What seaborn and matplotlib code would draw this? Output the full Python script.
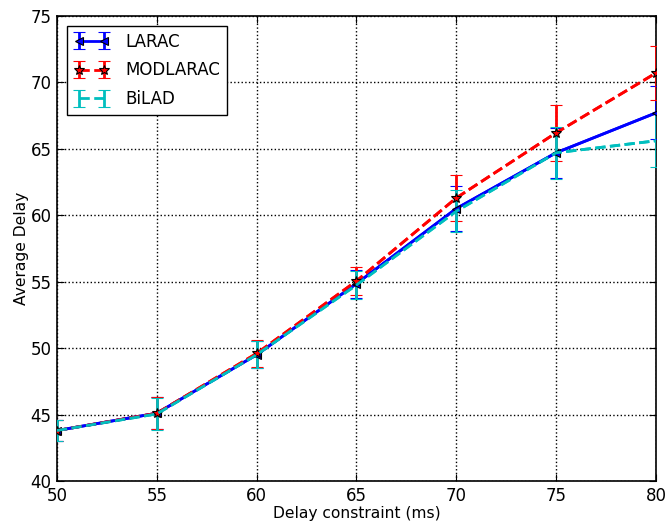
import numpy as np
import pandas as pd
import matplotlib
matplotlib.use("Agg")
import matplotlib.pyplot as plt
import seaborn as sns

delay_constraint = [50, 55, 60, 65, 70, 75, 80]
larac = [43.8, 45.1, 49.5, 54.85, 60.5, 64.7, 67.7]
larac_err = [0.8, 1.2, 1.0, 1.05, 1.7, 1.9, 2.0]
modlarac = [43.8, 45.1, 49.6, 55.05, 61.3, 66.2, 70.7]
modlarac_err = [0.8, 1.2, 1.0, 1.05, 1.7, 2.1, 2.0]
bilad = [43.8, 45.05, 49.5, 54.75, 60.3, 64.7, 65.6]
bilad_err = [0.8, 1.2, 1.0, 1.05, 1.6, 1.95, 2.0]
series_names = ["LARAC", "MODLARAC", "BiLAD"]

sns.set_style("ticks")
plt.rcParams['font.family'] = ['DejaVu Sans']
plt.rcParams['text.color'] = 'black'
plt.rcParams['axes.labelcolor'] = 'black'
plt.rcParams['xtick.color'] = 'black'
plt.rcParams['ytick.color'] = 'black'

fig, ax = plt.subplots(figsize=(6.7, 5.29), dpi=100)
fig.subplots_adjust(left=0.085, right=0.979, top=0.970, bottom=0.0907)

styles = [
    dict(color="#0000ff", ls="-", marker="<", mfc="#0000ff", mec="black", ms=6),
    dict(color="#ff0000", ls="--", marker="*", mfc="#ff0000", mec="black", ms=7),
    dict(color="#00bfbf", ls="--", marker="", mfc="#00bfbf", mec="#00bfbf", ms=5),
]
values = [(larac, larac_err), (modlarac, modlarac_err), (bilad, bilad_err)]

for name, (y, e), st in zip(series_names, values, styles):
    df = pd.DataFrame({"x": delay_constraint, "y": y})
    sns.lineplot(data=df, x="x", y="y", ax=ax, color=st["color"], linestyle=st["ls"],
                 lw=2, legend=False, zorder=3)
    ax.errorbar(delay_constraint, y, yerr=e, color=st["color"], ls=st["ls"], lw=2,
                marker=st["marker"] if st["marker"] else None, mfc=st["mfc"], mec=st["mec"],
                mew=0.8, ms=st["ms"], elinewidth=2, capsize=4, capthick=1.5,
                label=name, zorder=5)

ax.set_xlim(50, 80)
ax.set_ylim(40, 75)
ax.set_xticks(range(50, 81, 5))
ax.set_yticks(range(40, 76, 5))
ax.grid(True, color="black", linestyle=":", linewidth=1)
ax.tick_params(direction="in", top=True, right=True, labelsize=12, length=5, pad=4)
for s in ax.spines.values():
    s.set_linewidth(1.2)
    s.set_color("black")
ax.set_xlabel("Delay constraint (ms)", fontsize=11.2, labelpad=1)
ax.set_ylabel("Average Delay", fontsize=11.2, labelpad=1)

leg = ax.legend(loc="upper left", fontsize=12, fancybox=False, edgecolor="black",
                framealpha=1, numpoints=2, handlelength=2.1, labelspacing=0.65,
                handletextpad=1.0, borderaxespad=0.6)
leg.get_frame().set_linewidth(1.0)

fig.savefig("out.png", dpi=100)
